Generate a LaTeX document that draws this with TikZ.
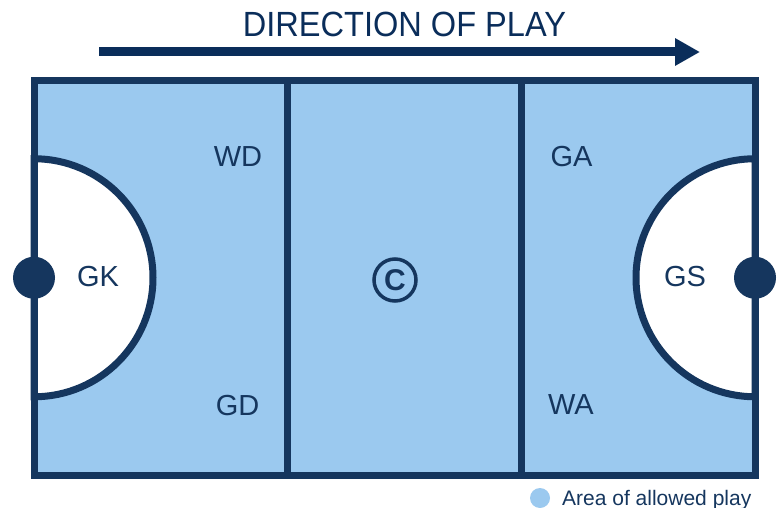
\documentclass[tikz,border=0pt]{standalone}
\usepackage{fontspec}
\setmainfont{Liberation Sans}
\newfontfamily\titlefont[FakeStretch=0.93]{Liberation Sans}
\usetikzlibrary{arrows.meta}
\definecolor{courtnavy}{RGB}{21,54,94}
\definecolor{arrownavy}{RGB}{10,45,90}
\definecolor{courtblue}{RGB}{155,201,239}

\tikzset{
  courtline/.style={courtnavy,line width=7pt},
  posname/.style={courtnavy,font=\fontsize{29}{29}\selectfont,inner sep=0pt},
  goalpost/.style={circle,fill=courtnavy,minimum size=42pt,inner sep=0pt}
}

\begin{document}
\begin{tikzpicture}[x=1pt,y=-1pt,>=Stealth]
    \useasboundingbox (0,0) rectangle (784,508);

    % Direction of play
    \node[arrownavy,font=\titlefont\fontsize{35}{35}\selectfont,inner sep=0pt] (title) at (404.5,24.2) {DIRECTION OF PLAY};
    \coordinate (arrowstart) at (99,52);
    \coordinate (arrowend) at (700,52);
    \draw[arrownavy,line width=9pt,-{Triangle[length=25pt,width=26pt]}] (arrowstart) -- (arrowend);

    % Court
    \coordinate (nw) at (34,80.5);
    \coordinate (se) at (755,475);
    \fill[courtblue] (nw) rectangle (se);

    % Goal circles
    \filldraw[courtline,fill=white] (34,158.75) arc[start angle=-90,end angle=90,radius=119] -- cycle;
    \filldraw[courtline,fill=white] (755,158.75) arc[start angle=-90,end angle=-270,radius=119] -- cycle;

    % Outline and thirds
    \draw[courtline] (nw) rectangle (se);
    \draw[courtline] (287.5,80.5) -- (287.5,475);
    \draw[courtline] (521,80.5) -- (521,475);

    % Goal posts
    \node[goalpost] (leftpost) at (34,277.75) {};
    \node[goalpost] (rightpost) at (755,277.75) {};

    % Positions
    \node[posname] (gk) at (98,277) {GK};
    \node[posname] (wd) at (238,157) {WD};
    \node[posname] (gd) at (237.5,406) {GD};
    \node[posname] (c) at (395,280) {\bfseries\fontsize{30}{30}\selectfont C};
    \draw[courtnavy,line width=3.5pt] (c.center) circle[radius=21];
    \node[posname] (ga) at (571.5,157) {GA};
    \node[posname] (wa) at (571,404.5) {WA};
    \node[posname] (gs) at (685,277) {GS};

    % Legend
    \fill[courtblue] (540,498) circle[radius=10];
    \node[courtnavy,anchor=base west,inner sep=0pt,font=\fontsize{21}{21}\selectfont] (legend) at (562,505) {Area of allowed play};
\end{tikzpicture}
\end{document}
